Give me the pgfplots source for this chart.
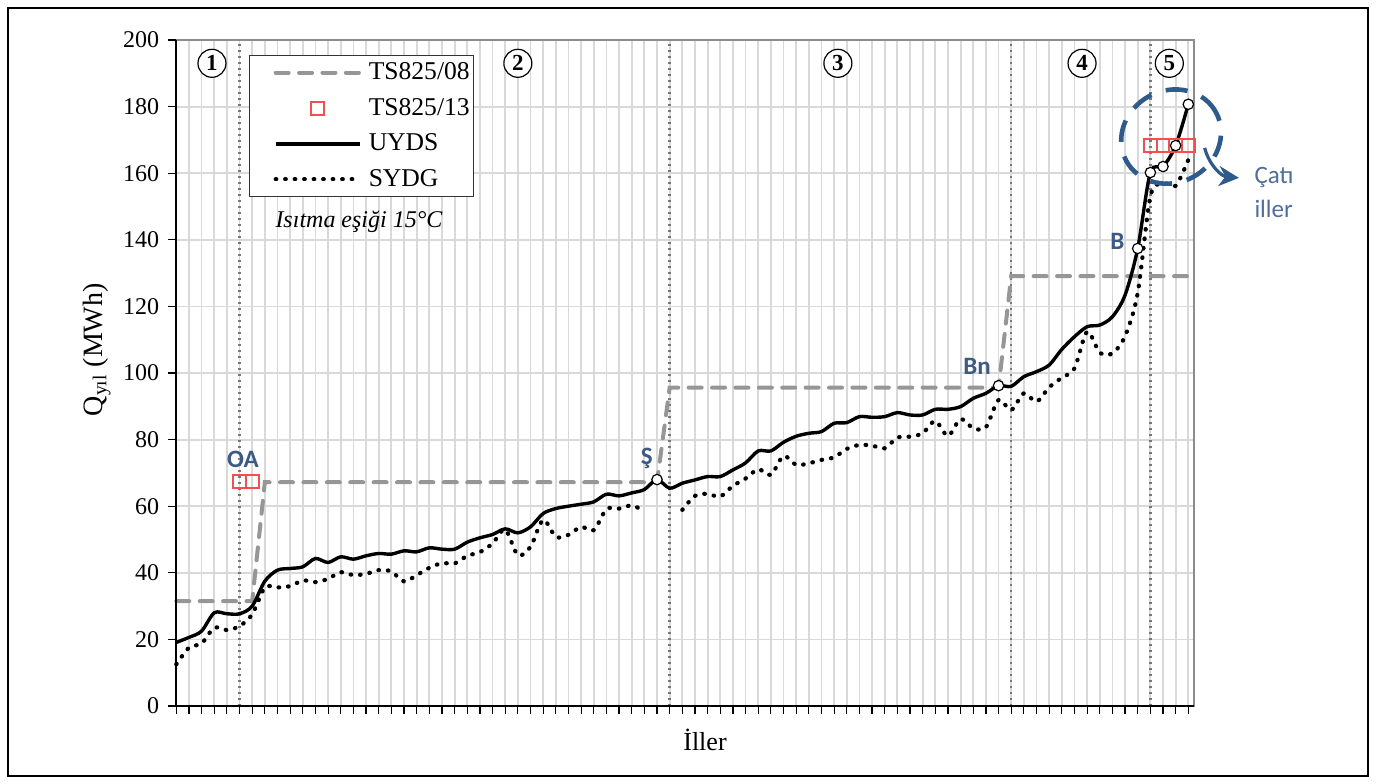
\documentclass[border=0pt]{standalone}
\usepackage{fontspec}
\setmainfont{Liberation Serif}
\newfontfamily\annfont{Carlito}
\usepackage{pgfplots}
\usepackage{pgfplotstable}
\pgfplotsset{compat=1.18}
\usetikzlibrary{arrows.meta}
\definecolor{tsgray}{RGB}{150,150,150}
\definecolor{sqred}{RGB}{240,80,80}
\definecolor{annblue}{RGB}{60,90,130}
\definecolor{ellblue}{RGB}{47,90,140}
\definecolor{catiblue}{RGB}{80,110,155}
\definecolor{gridgray}{RGB}{217,217,217}
\definecolor{zonegray}{RGB}{120,120,120}

\pgfplotsset{
  lineleg/.style={legend image code/.code={\path (0pt,0pt); \draw[##1] (11pt,0pt) -- (53pt,0pt);}},
  sqleg/.style={legend image code/.code={\path (0pt,0pt) (53pt,0pt); \draw[##1] plot coordinates {(32pt,0pt)};}},
}

\pgfplotstableread{
x y
0 31.5
6 31.5
7 67.2
38 67.2
39 95.6
65 95.6
66 129.1
80 129.1
}\tsold

\pgfplotstableread{
x y
5 67.4
6 67.4
77 168.4
78 168.4
79 168.4
80 168.4
}\tsnew

\pgfplotstableread{
x y
0 19.1
1 20.6
2 22.5
3 28.0
4 27.7
5 27.7
6 30.0
7 37.5
8 40.8
9 41.3
10 41.8
11 44.3
12 43.1
13 44.8
14 44.1
15 45.1
16 45.8
17 45.6
18 46.6
19 46.3
20 47.5
21 47.1
22 47.1
23 49.2
24 50.5
25 51.5
26 53.2
27 52.0
28 53.8
29 57.8
30 59.3
31 60.0
32 60.6
33 61.3
34 63.6
35 63.1
36 64.0
37 65.0
38 68.0
39 65.4
40 66.9
41 67.9
42 68.9
43 68.9
44 70.9
45 73.0
46 76.6
47 76.6
48 79.2
49 81.0
50 81.9
51 82.4
52 84.9
53 85.1
54 86.9
55 86.7
56 86.9
57 88.1
58 87.4
59 87.4
60 89.1
61 89.1
62 89.9
63 92.4
64 93.9
65 96.2
66 96.0
67 98.9
68 100.4
69 102.4
70 107.1
71 110.9
72 113.9
73 114.4
74 116.9
75 123.4
76 137.4
77 160.2
78 162.0
79 168.3
80 180.7
}\uyds

\pgfplotstableread{
x y
38 68.0
65 96.2
76 137.4
77 160.2
78 162.0
79 168.3
80 180.7
}\marked

\pgfplotstableread{
x y
0 12.5
1 17.5
2 18.8
3 23.5
4 22.8
5 24.0
6 27.5
7 35.6
8 35.6
9 36.0
10 37.7
11 37.2
12 38.2
13 40.2
14 39.3
15 39.7
16 40.8
17 40.4
18 37.4
19 39.3
20 41.5
21 42.9
22 42.8
23 45.1
24 46.2
25 48.8
26 53.0
27 45.3
28 47.8
29 55.9
30 50.8
31 51.4
32 53.8
33 52.8
34 59.1
35 59.3
36 60.2
37 58.6
}\sydgA

\pgfplotstableread{
x y
40 58.9
41 63.1
42 63.7
43 62.9
44 66.1
45 68.3
46 71.1
47 69.4
48 75.1
49 72.4
50 72.9
51 73.9
52 74.7
53 77.2
54 78.4
55 78.2
56 77.4
57 80.6
58 80.9
59 81.9
60 85.6
61 81.1
62 86.2
63 83.4
64 83.7
65 91.9
66 88.9
67 93.9
68 91.4
69 95.7
70 98.6
71 101.4
72 112.4
73 106.1
74 105.9
75 111.1
76 124.0
77 153.0
78 157.0
79 156.2
80 164.0
}\sydgB

\begin{document}
\begin{tikzpicture}
\useasboundingbox (-88.15pt,-38.5pt) rectangle (600.35pt,353pt);
\draw[black, line width=0.7pt] (-84.15pt,-35pt) rectangle (595.85pt,349pt);
\begin{axis}[
  at={(0pt,0pt)}, anchor=south west,
  scale only axis, width=508.85pt, height=333pt,
  xmin=0, xmax=80.45, ymin=0, ymax=200,
  xtick={0,...,80}, xticklabels={},
  ytick={0,20,...,200},
  xtick pos=left, ytick pos=left,
  tick align=outside,
  major tick length=4pt,
  tick style={black, line width=0.6pt},
  grid=major,
  major grid style={gridgray, line width=0.9pt},
  axis line style={draw=black!45, line width=0.6pt},
  clip=false,
  /pgf/number format/assume math mode=true,
  yticklabel style={font=\fontsize{12}{14}\selectfont, xshift=-1pt},
  xlabel={İller},
  ylabel={Q\textsubscript{yıl} (MWh)},
  xlabel style={font=\fontsize{13}{15}\selectfont, at={(axis description cs:0.5195,-0.051)}, anchor=center},
  ylabel style={font=\fontsize{14}{16}\selectfont, at={(axis description cs:-0.0782,0.535)}, anchor=center},
  legend style={at={(0.0714,0.9775)}, anchor=north west, draw=black!80, line width=0.6pt,
    font=\fontsize{12.8}{15}\selectfont, inner xsep=1pt, inner ysep=2.5pt,
    nodes={inner sep=1pt}, row sep=5.8pt, column sep=2.5pt},
  legend cell align=left,
]
% zone boundaries
\draw[zonegray, line width=1.2pt, dash pattern=on 1.1pt off 1.9pt] (axis cs:5,0) -- (axis cs:5,200);
\draw[zonegray, line width=1.2pt, dash pattern=on 1.1pt off 1.9pt] (axis cs:39,0) -- (axis cs:39,200);
\draw[zonegray, line width=1.2pt, dash pattern=on 1.1pt off 1.9pt] (axis cs:66,0) -- (axis cs:66,200);
\draw[zonegray, line width=1.2pt, dash pattern=on 1.1pt off 1.9pt] (axis cs:77,0) -- (axis cs:77,200);

\addplot[tsgray, line width=2pt, dash pattern=on 6.5pt off 5.2pt, line cap=round, lineleg]
  table[x=x,y=y] {\tsold};
\addlegendentry{TS825/08}
\addplot[only marks, mark=square, mark size=3.2pt, sqred, mark options={line width=1pt, fill=white}, sqleg]
  table[x=x,y=y] {\tsnew};
\addlegendentry{TS825/13}
\addplot[black, line width=1.7pt, smooth, tension=0.5, lineleg]
  table[x=x,y=y] {\uyds};
\addlegendentry{UYDS}
\addplot[black, line width=2.1pt, smooth, tension=0.5, line cap=round, dash pattern=on 0.3pt off 4.45pt, lineleg]
  table[x=x,y=y] {\sydgA};
\addlegendentry{SYDG}
\addplot[forget plot, black, line width=2.1pt, smooth, tension=0.5, line cap=round, dash pattern=on 0.3pt off 4.45pt]
  table[x=x,y=y] {\sydgB};
\addplot[forget plot, only marks, mark=*, mark size=2.6pt, mark options={fill=white, draw=black, line width=0.6pt}]
  table[x=x,y=y] {\marked};

% axis lines
\draw[black, line width=0.8pt] (rel axis cs:0,1) -- (rel axis cs:0,0) -- (rel axis cs:1,0);

% zone numbers
\tikzset{zonenum/.style={circle, draw, line width=0.6pt, inner sep=0pt, minimum size=14pt, fill=white, font=\bfseries\fontsize{11.5}{13}\selectfont}}
\node[zonenum] at (axis cs:2.82,193) {1};
\node[zonenum] at (axis cs:27.0,193) {2};
\node[zonenum] at (axis cs:52.3,193) {3};
\node[zonenum] at (axis cs:71.6,193) {4};
\node[zonenum] at (axis cs:78.5,193) {5};

\node[font=\itshape\fontsize{12}{14}\selectfont] at (axis cs:14.44,145.3) {Isıtma eşiği 15°C};

\node[annblue, font=\annfont\bfseries\fontsize{12.5}{15}\selectfont] at (axis cs:5.27,74.0) {OA};
\node[annblue, font=\annfont\bfseries\fontsize{12.5}{15}\selectfont] at (axis cs:37.2,74.5) {Ş};
\node[annblue, font=\annfont\bfseries\fontsize{12.5}{15}\selectfont] at (axis cs:63.3,102.1) {Bn};
\node[annblue, font=\annfont\bfseries\fontsize{12.5}{15}\selectfont] at (axis cs:74.4,139.6) {B};
\node[catiblue, font=\annfont\fontsize{12.5}{15}\selectfont, anchor=west, inner sep=0pt] at (axis cs:85.2,158.6) {Çatı};
\node[catiblue, font=\annfont\fontsize{12.5}{15}\selectfont, anchor=west, inner sep=0pt] at (axis cs:85.2,149.2) {iller};

\draw[ellblue, line width=2.3pt, dash pattern=on 11pt off 7.5pt] (axis cs:78.64,171) circle [x radius=25.5pt, y radius=23pt, rotate=28];
\draw[ellblue, line width=1.6pt, -{Stealth[length=10pt, width=10pt]}] (axis cs:81.29,167.6) to[out=-75, in=175] (axis cs:84.0,158.6);
\end{axis}
\end{tikzpicture}
\end{document}
